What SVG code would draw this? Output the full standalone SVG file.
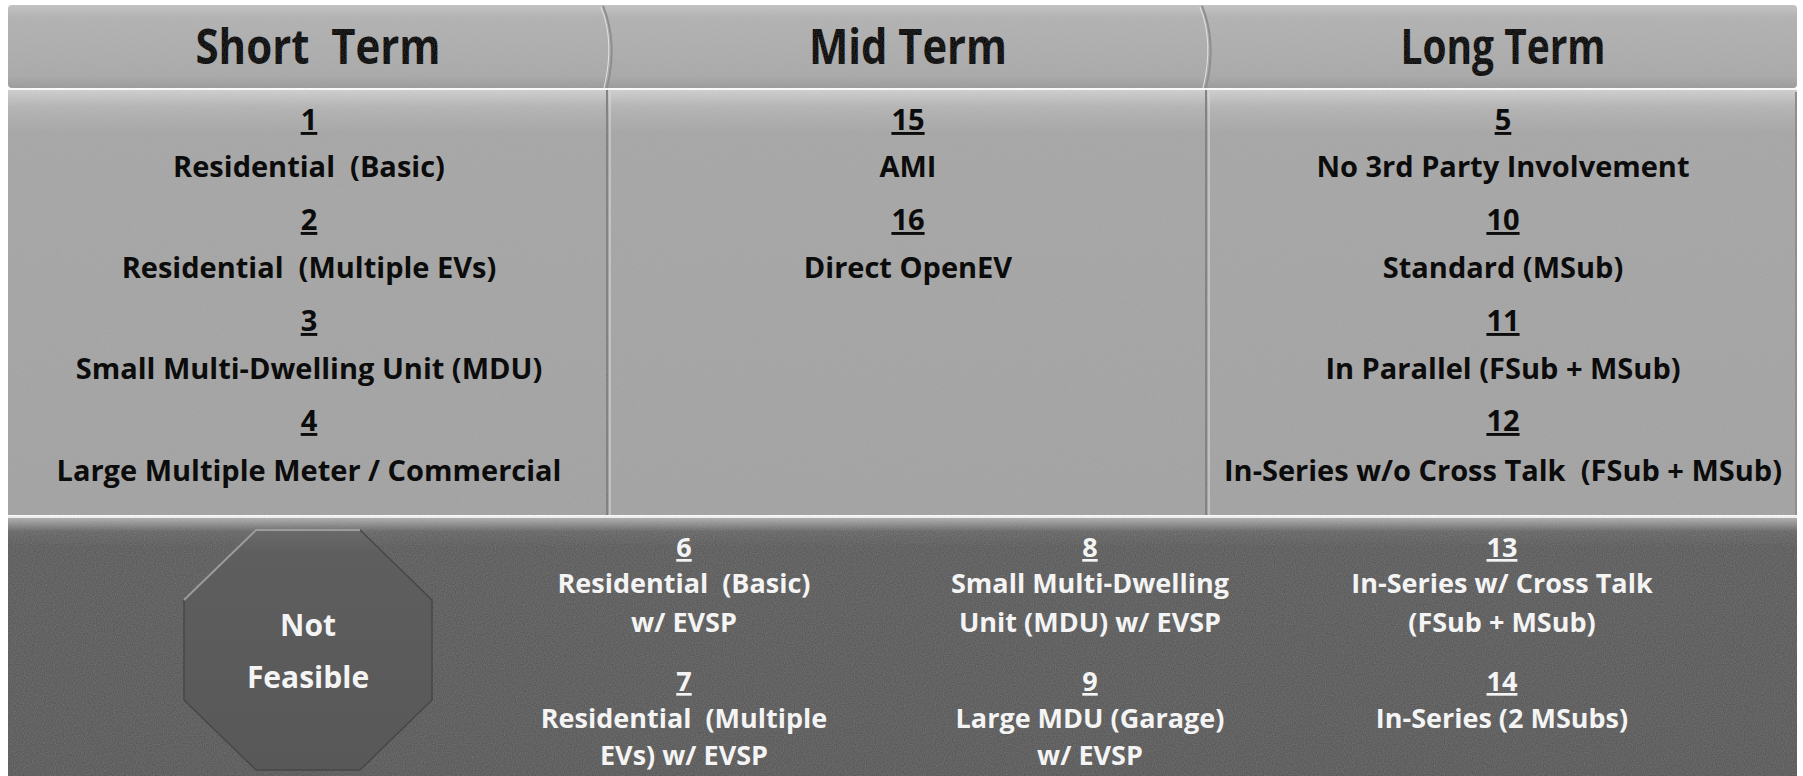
<svg xmlns="http://www.w3.org/2000/svg" width="1803" height="776" viewBox="0 0 1803 776">
<defs>
<linearGradient id="gHdr" x1="0" y1="0" x2="0" y2="1">
<stop offset="0" stop-color="#c4c4c4"/><stop offset="0.15" stop-color="#b2b2b2"/><stop offset="0.85" stop-color="#a9a9a9"/><stop offset="1" stop-color="#9a9a9a"/>
</linearGradient>
<linearGradient id="gPanel" x1="0" y1="0" x2="0" y2="1">
<stop offset="0" stop-color="#d0d0d0"/><stop offset="0.04" stop-color="#b4b4b4"/><stop offset="0.1" stop-color="#a6a6a6"/><stop offset="1" stop-color="#a2a2a2"/>
</linearGradient>
<linearGradient id="gBottom" x1="0" y1="0" x2="0" y2="1">
<stop offset="0" stop-color="#b8b8b8"/><stop offset="0.06" stop-color="#666"/><stop offset="0.12" stop-color="#5c5c5c"/><stop offset="1" stop-color="#5a5a5a"/>
</linearGradient>
<linearGradient id="gOct" x1="0" y1="0" x2="0" y2="1">
<stop offset="0" stop-color="#6a6a6a"/><stop offset="0.1" stop-color="#5e5e5e"/><stop offset="1" stop-color="#585858"/>
</linearGradient>
<filter id="noise" x="0" y="0" width="100%" height="100%">
<feTurbulence type="fractalNoise" baseFrequency="0.9" numOctaves="1" seed="3" result="t"/>
<feColorMatrix type="matrix" values="0 0 0 0 0.5  0 0 0 0 0.5  0 0 0 0 0.5  1.2 0 0 0 -0.35"/>
</filter>
<style>
.t{font-family:"Open Sans","Noto Sans","Liberation Sans",sans-serif;font-weight:bold;text-anchor:middle;white-space:pre}
.hdr{font-size:49px;fill:#080808}
.dk{font-size:29px;fill:#0c0c0c}
.lt{font-size:27px;fill:#f4f4f4}
.ft{font-size:30px;fill:#f4f4f4}
.u{text-decoration:underline}
.divd{fill:none;stroke:#8a8a8a;stroke-width:2}
.divl{fill:none;stroke:#e6e6e6;stroke-width:1}
</style>
</defs>
<rect width="1803" height="776" fill="#fff"/>

<g id="header">
<rect x="8" y="5" width="1789" height="83" rx="4" fill="url(#gHdr)"/>
<path class="divd" d="M603,6 Q618,42 607,88"/>
<path class="divl" d="M601,7 Q615,42 604,88"/>
<path class="divd" d="M1202,6 Q1217,42 1206,88"/>
<path class="divl" d="M1200,7 Q1214,42 1203,88"/>
<g id="header-short"><text class="t hdr" x="318" y="64" textLength="245" lengthAdjust="spacingAndGlyphs">Short  Term</text></g>
<g id="header-mid"><text class="t hdr" x="908" y="64" textLength="198" lengthAdjust="spacingAndGlyphs">Mid Term</text></g>
<g id="header-long"><text class="t hdr" x="1503" y="64" textLength="205" lengthAdjust="spacingAndGlyphs">Long Term</text></g>
</g>

<g id="panels">
<rect x="8" y="90" width="598" height="425" fill="url(#gPanel)"/>
<rect x="608" y="90" width="597" height="425" fill="url(#gPanel)"/>
<rect x="1207" y="90" width="590" height="425" fill="url(#gPanel)"/>
<line x1="607" y1="90" x2="607" y2="515" stroke="#7e7e7e" stroke-width="2"/>
<line x1="610" y1="92" x2="610" y2="515" stroke="#e0e0e0" stroke-width="1"/>
<line x1="1206" y1="90" x2="1206" y2="515" stroke="#7e7e7e" stroke-width="2"/>
<line x1="1209" y1="92" x2="1209" y2="515" stroke="#e0e0e0" stroke-width="1"/>
<line x1="1796" y1="92" x2="1796" y2="515" stroke="#8a8a8a" stroke-width="2"/>
</g>

<g id="bottom">
<rect x="8" y="516" width="1789" height="260" fill="url(#gBottom)"/>
<line x1="8" y1="517" x2="1797" y2="517" stroke="#f2f2f2" stroke-width="2"/>
</g>

<rect x="8" y="5" width="1789" height="771" filter="url(#noise)" opacity="0.35"/>

<g id="connectors"/>

<g id="item-1"><text class="t dk u" x="309" y="130">1</text><text class="t dk" x="309" y="177">Residential  (Basic)</text></g>
<g id="item-2"><text class="t dk u" x="309" y="230">2</text><text class="t dk" x="309" y="278">Residential  (Multiple EVs)</text></g>
<g id="item-3"><text class="t dk u" x="309" y="331">3</text><text class="t dk" x="309" y="379">Small Multi-Dwelling Unit (MDU)</text></g>
<g id="item-4"><text class="t dk u" x="309" y="431">4</text><text class="t dk" x="309" y="481">Large Multiple Meter / Commercial</text></g>

<g id="item-15"><text class="t dk u" x="908" y="130">15</text><text class="t dk" x="908" y="177">AMI</text></g>
<g id="item-16"><text class="t dk u" x="908" y="230">16</text><text class="t dk" x="908" y="278">Direct OpenEV</text></g>

<g id="item-5"><text class="t dk u" x="1503" y="130">5</text><text class="t dk" x="1503" y="177">No 3rd Party Involvement</text></g>
<g id="item-10"><text class="t dk u" x="1503" y="230">10</text><text class="t dk" x="1503" y="278">Standard (MSub)</text></g>
<g id="item-11"><text class="t dk u" x="1503" y="331">11</text><text class="t dk" x="1503" y="379">In Parallel (FSub + MSub)</text></g>
<g id="item-12"><text class="t dk u" x="1503" y="431">12</text><text class="t dk" x="1503" y="481">In-Series w/o Cross Talk  (FSub + MSub)</text></g>

<g id="not-feasible">
<polygon points="256,530 360,530 432,600 432,700 360,770 256,770 184,700 184,600" fill="url(#gOct)" stroke="#474747" stroke-width="1.5"/>
<polyline points="184,600 256,530 360,530" fill="none" stroke="#9c9c9c" stroke-width="2"/>
<text class="t ft" x="308" y="636">Not</text>
<text class="t ft" x="308" y="688">Feasible</text>
</g>

<g id="item-6"><text class="t lt u" x="684" y="557">6</text><text class="t lt" x="684" y="593">Residential  (Basic)</text><text class="t lt" x="684" y="632">w/ EVSP</text></g>
<g id="item-7"><text class="t lt u" x="684" y="691">7</text><text class="t lt" x="684" y="728">Residential  (Multiple</text><text class="t lt" x="684" y="765">EVs) w/ EVSP</text></g>
<g id="item-8"><text class="t lt u" x="1090" y="557">8</text><text class="t lt" x="1090" y="593">Small Multi-Dwelling</text><text class="t lt" x="1090" y="632">Unit (MDU) w/ EVSP</text></g>
<g id="item-9"><text class="t lt u" x="1090" y="691">9</text><text class="t lt" x="1090" y="728">Large MDU (Garage)</text><text class="t lt" x="1090" y="765">w/ EVSP</text></g>
<g id="item-13"><text class="t lt u" x="1502" y="557">13</text><text class="t lt" x="1502" y="593">In-Series w/ Cross Talk</text><text class="t lt" x="1502" y="632">(FSub + MSub)</text></g>
<g id="item-14"><text class="t lt u" x="1502" y="691">14</text><text class="t lt" x="1502" y="728">In-Series (2 MSubs)</text></g>
</svg>
